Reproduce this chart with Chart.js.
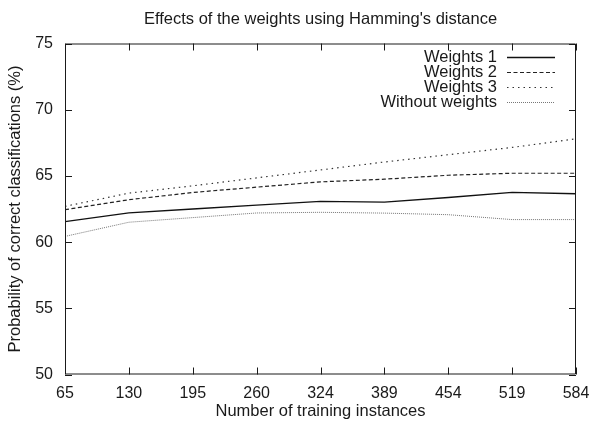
<!DOCTYPE html>
<html>
<head>
<meta charset="utf-8">
<script src="https://cdn.jsdelivr.net/npm/chart.js@4.4.1/dist/chart.umd.min.js"></script>
<style>
  html, body { margin: 0; padding: 0; background: #fff; }
  #wrap { width: 590px; height: 424px; position: relative; }
</style>
</head>
<body>
<div id="wrap"><canvas id="chart"></canvas></div>
<script>
// données
const categories = ['65', '130', '195', '260', '324', '389', '454', '519', '584'];
const weights1 = [61.55, 62.2, 62.5, 62.8, 63.07, 63.02, 63.37, 63.75, 63.65];
const weights2 = [62.45, 63.2, 63.75, 64.15, 64.55, 64.75, 65.05, 65.2, 65.2];
const weights3 = [62.7, 63.7, 64.25, 64.85, 65.45, 66.05, 66.6, 67.15, 67.8];
const withoutWeights = [60.43, 61.5, 61.85, 62.2, 62.25, 62.19, 62.07, 61.7, 61.7];
const yTicks = [50, 55, 60, 65, 70, 75];

const FONT = '"Liberation Sans", Arial, sans-serif';
const INK = '#1a1a1a';

// cadre + graduations intérieures (style gnuplot)
const framePlugin = {
    id: 'frame',
    afterDatasetsDraw(chart) {
        const ctx = chart.ctx;
        const a = chart.chartArea;
        const xs = chart.scales.x;
        const ys = chart.scales.y;
        const tick = 7;
        ctx.save();
        ctx.strokeStyle = INK;
        ctx.lineWidth = 1;
        ctx.beginPath();
        ctx.rect(a.left + 0.5, a.top + 0.5, a.right - a.left - 1, a.bottom - a.top - 1);
        xs.ticks.forEach((t, i) => {
            const px = Math.round(xs.getPixelForTick(i)) + 0.5;
            ctx.moveTo(px, a.bottom);
            ctx.lineTo(px, a.bottom - tick);
            ctx.moveTo(px, a.top);
            ctx.lineTo(px, a.top + tick);
        });
        ys.ticks.forEach(t => {
            const py = Math.round(ys.getPixelForValue(t.value)) + 0.5;
            ctx.moveTo(a.left, py);
            ctx.lineTo(a.left + tick, py);
            ctx.moveTo(a.right, py);
            ctx.lineTo(a.right - tick, py);
        });
        ctx.stroke();
        ctx.restore();
    }
};

// légende à l'intérieur, texte aligné à droite puis échantillon de trait
const insideLegend = {
    id: 'insideLegend',
    afterDraw(chart) {
        const ctx = chart.ctx;
        const a = chart.chartArea;
        const textRight = a.right - 79;
        const lineStart = a.right - 69;
        const lineEnd = a.right - 21;
        let y = a.top + 13.5;
        ctx.save();
        ctx.font = '16.5px ' + FONT;
        ctx.textAlign = 'right';
        ctx.textBaseline = 'middle';
        chart.data.datasets.forEach(ds => {
            ctx.fillStyle = INK;
            ctx.fillText(ds.label, textRight, y + 0.8);
            ctx.beginPath();
            ctx.strokeStyle = ds.borderColor;
            ctx.lineWidth = ds.borderWidth;
            ctx.setLineDash(ds.borderDash || []);
            ctx.moveTo(lineStart, Math.round(y) + 0.5);
            ctx.lineTo(lineEnd, Math.round(y) + 0.5);
            ctx.stroke();
            y += 15;
        });
        ctx.restore();
    }
};

document.addEventListener('DOMContentLoaded', function() {
    const ctx = document.getElementById('chart');
    new Chart(ctx, {
        type: 'line',
        data: {
            labels: categories,
            datasets: [
                { label: 'Weights 1', data: weights1, borderColor: '#111', borderWidth: 1.3, borderDash: [] },
                { label: 'Weights 2', data: weights2, borderColor: '#222', borderWidth: 1.2, borderDash: [4, 2.5] },
                { label: 'Weights 3', data: weights3, borderColor: '#333', borderWidth: 1.2, borderDash: [1.5, 4] },
                { label: 'Without weights', data: withoutWeights, borderColor: '#777', borderWidth: 1, borderDash: [1, 1] }
            ]
        },
        options: {
            responsive: true,
            maintainAspectRatio: false,
            animation: false,
            elements: {
                point: { radius: 0 },
                line: { tension: 0, fill: false }
            },
            layout: { padding: { left: 0, right: 14, top: 0, bottom: 0 } },
            plugins: {
                legend: { display: false },
                tooltip: { enabled: false },
                title: {
                    display: true,
                    fullSize: false,
                    text: "Effects of the weights using Hamming's distance",
                    color: INK,
                    font: { family: FONT, size: 16.5, weight: 'normal' },
                    padding: { top: 9.4, bottom: 14.3 }
                }
            },
            scales: {
                x: {
                    type: 'category',
                    offset: false,
                    grid: { display: false, drawTicks: false },
                    border: { display: false },
                    afterFit(scale) {
                        scale.height = 49.5;
                        scale.paddingLeft = 0;
                        scale.paddingRight = 0;
                    },
                    ticks: {
                        color: INK,
                        font: { family: FONT, size: 16 },
                        padding: 9,
                        maxRotation: 0,
                        autoSkip: false
                    },
                    title: {
                        display: true,
                        text: 'Number of training instances',
                        color: INK,
                        font: { family: FONT, size: 16.5 },
                        padding: { top: 0, bottom: 2.3 }
                    }
                },
                y: {
                    min: 50,
                    max: 75,
                    afterBuildTicks(scale) {
                        scale.ticks = yTicks.map(v => ({ value: v }));
                    },
                    afterFit(scale) {
                        scale.width = 65;
                    },
                    grid: { display: false, drawTicks: false },
                    border: { display: false },
                    ticks: {
                        color: INK,
                        font: { family: FONT, size: 16 },
                        padding: 12
                    },
                    title: {
                        display: true,
                        text: 'Probability of correct classifications (%)',
                        color: INK,
                        font: { family: FONT, size: 16.5 },
                        padding: { top: 6, bottom: 0 }
                    }
                }
            }
        },
        plugins: [framePlugin, insideLegend]
    });
});
</script>
</body>
</html>
